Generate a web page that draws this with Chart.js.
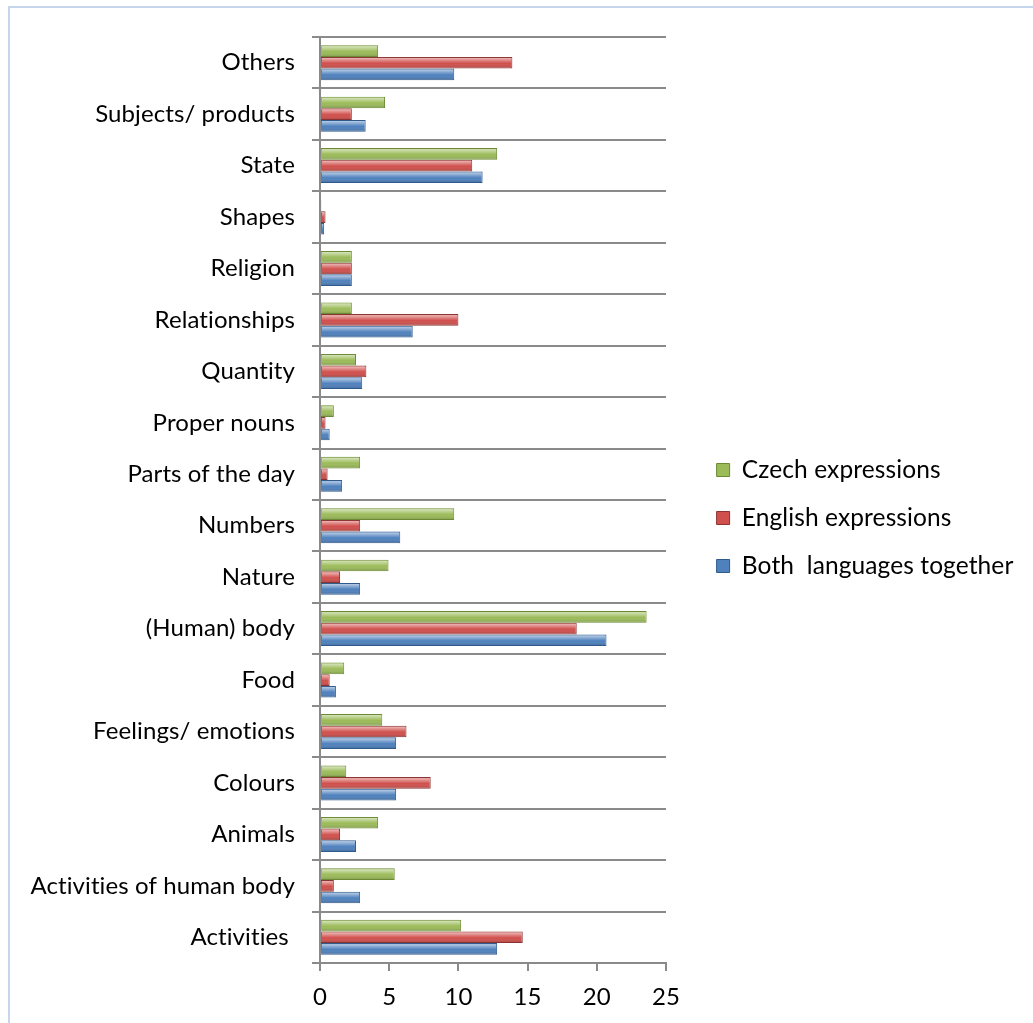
<!DOCTYPE html>
<html>
<head>
<meta charset="utf-8">
<script src="https://cdn.jsdelivr.net/npm/chart.js@4/dist/chart.umd.min.js"></script>
<style>
  html, body { margin: 0; padding: 0; background: #fff; overflow: hidden; width: 1033px; height: 1023px; }
  #frame { position: absolute; left: 8px; top: 6px; width: 2000px; height: 2000px;
           border-top: 2px solid #c6d6ec; border-left: 2px solid #c6d6ec; }
  #c { position: absolute; left: 0; top: 0; }
</style>
</head>
<body>
<div id="frame"></div>
<canvas id="c" width="1033" height="1023"></canvas>
<script>
const categories = ["Others", "Subjects/ products", "State", "Shapes", "Religion", "Relationships",
  "Quantity", "Proper nouns", "Parts of the day", "Numbers", "Nature", "(Human) body", "Food",
  "Feelings/ emotions", "Colours", "Animals", "Activities of human body", "Activities "];
const czechExpressions   = [4.2, 4.7, 12.8, 0.1, 2.3, 2.3, 2.6, 1.0, 2.9, 9.7, 4.95, 23.6, 1.75, 4.5, 1.9, 4.2, 5.4, 10.2];
const englishExpressions = [13.9, 2.3, 11.0, 0.4, 2.3, 10.0, 3.35, 0.4, 0.55, 2.9, 1.45, 18.55, 0.7, 6.25, 8.0, 1.45, 1.0, 14.65];
const bothLanguages      = [9.7, 3.3, 11.75, 0.3, 2.3, 6.7, 3.05, 0.7, 1.6, 5.8, 2.9, 20.7, 1.15, 5.5, 5.5, 2.6, 2.9, 12.8];
const seriesNames = ["Czech expressions", "English expressions", "Both  languages together"];
const xTicks = [0, 5, 10, 15, 20, 25];

const FONT = "Lato";
const PAD_RIGHT = 12;
const PLOT_RIGHT = 666;
const LEGEND_SHIFT = -11.5;

const noLigatures = {
  id: 'noLigatures',
  beforeDraw(chart) { chart.ctx.letterSpacing = '0.1px'; }
};

const legendShift = {
  id: 'legendShift',
  afterLayout(chart) {
    const lg = chart.legend;
    if (lg) { lg.top += LEGEND_SHIFT; lg.bottom += LEGEND_SHIFT; }
  }
};

const bevel = {
  id: 'bevel',
  afterDatasetsDraw(chart) {
    const ctx = chart.ctx;
    chart.data.datasets.forEach((ds, di) => {
      const meta = chart.getDatasetMeta(di);
      meta.data.forEach(el => {
        const p = el.getProps(['x', 'y', 'base', 'height'], true);
        const l = Math.min(p.base, p.x), w = Math.abs(p.x - p.base);
        if (w < 2) return;
        const t = p.y - p.height / 2, h = p.height;
        const g = ctx.createLinearGradient(0, t, 0, t + h);
        g.addColorStop(0, 'rgba(255,255,255,0.0)');
        g.addColorStop(0.12, 'rgba(255,255,255,0.55)');
        g.addColorStop(0.35, 'rgba(255,255,255,0.25)');
        g.addColorStop(0.55, 'rgba(255,255,255,0)');
        g.addColorStop(1, 'rgba(0,0,0,0.22)');
        ctx.save();
        ctx.fillStyle = g;
        ctx.fillRect(l + 1, t + 1, w - 2, h - 2);
        ctx.restore();
      });
    });
  }
};

new Chart(document.getElementById('c'), {
  type: 'bar',
  data: {
    labels: categories,
    datasets: [
      { label: seriesNames[0], data: czechExpressions, backgroundColor: '#9bbb59', borderColor: '#6b8a33', borderWidth: 1 },
      { label: seriesNames[1], data: englishExpressions, backgroundColor: '#d0504d', borderColor: '#8c3432', borderWidth: 1 },
      { label: seriesNames[2], data: bothLanguages, backgroundColor: '#4f81bd', borderColor: '#2f5a8c', borderWidth: 1 }
    ]
  },
  options: {
    indexAxis: 'y',
    responsive: false,
    animation: false,
    events: [],
    layout: { padding: { top: 37, left: 10, right: PAD_RIGHT, bottom: 1 } },
    datasets: { bar: { categoryPercentage: 0.68, barPercentage: 1.0 } },
    scales: {
      x: {
        min: 0, max: 25,
        afterBuildTicks: s => { s.ticks = xTicks.map(v => ({ value: v })); },
        ticks: { color: '#000', font: { family: FONT, size: 24 }, padding: 12 },
        grid: { drawOnChartArea: false, drawTicks: true, tickLength: 8, color: '#8a8a8a', lineWidth: 2 },
        border: { color: '#8a8a8a', width: 2 },
        afterFit: s => { s.height = 59; }
      },
      y: {
        ticks: { color: '#000', font: { family: FONT, size: 24 }, padding: 17, autoSkip: false },
        grid: { color: '#8a8a8a', lineWidth: 2, tickLength: 8, offset: true },
        border: { color: '#8a8a8a', width: 2 },
        afterFit: s => { s.width = 310; }
      },
      yR: {
        type: 'category', position: 'right', display: true,
        ticks: { display: false }, grid: { display: false }, border: { display: false },
        afterFit: s => {
          const lg = s.chart.legend;
          s.width = lg ? Math.max(0, s.chart.width - PAD_RIGHT - lg.width - PLOT_RIGHT) : 0;
        }
      }
    },
    plugins: {
      legend: {
        position: 'right', align: 'center', maxWidth: 500,
        labels: { color: '#000', font: { family: FONT, size: 24.5 }, boxWidth: 13, boxHeight: 13, padding: 23.5 }
      },
      tooltip: { enabled: false }
    }
  },
  plugins: [noLigatures, legendShift, bevel]
});
</script>
</body>
</html>
